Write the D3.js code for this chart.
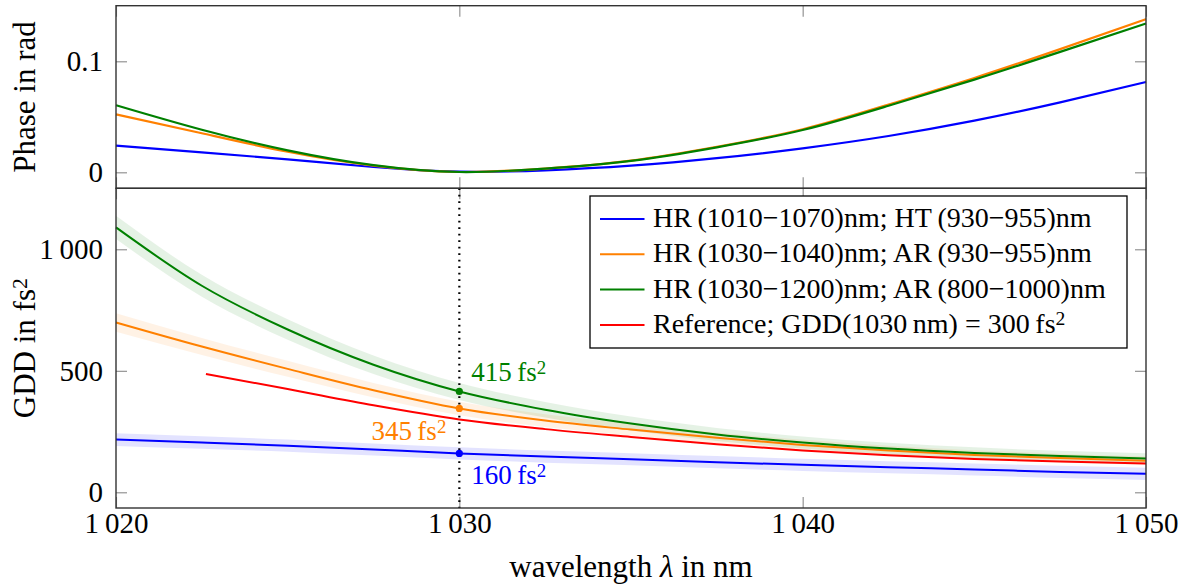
<!DOCTYPE html>
<html>
<head>
<meta charset="utf-8">
<script src="https://cdn.jsdelivr.net/npm/d3@7"></script>
<style>
  body { margin: 0; background: #ffffff; }
  svg { display: block; }
  svg text { font-family: "Liberation Serif", "Times New Roman", Times, Tinos, "Nimbus Roman", FreeSerif, "DejaVu Serif", "Noto Serif", serif; }
</style>
</head>
<body>
<script>
// ---------------- data ----------------
const wavelengths = [1020, 1022.5, 1025, 1027.5, 1030, 1032.5, 1035, 1037.5, 1040, 1042.5, 1045, 1047.5, 1050];

// phase in rad
const phaseBlue   = [0.0240, 0.0180, 0.0117, 0.0048, 0.0006, 0.0018, 0.0060, 0.0127, 0.0216, 0.0327, 0.0465, 0.0630, 0.0814];
const phaseOrange = [0.0522, 0.0352, 0.0185, 0.0060, 0.0003, 0.0034, 0.0106, 0.0230, 0.0388, 0.0610, 0.0850, 0.1110, 0.1380];
const phaseGreen  = [0.0604, 0.0383, 0.0198, 0.0064, 0.0003, 0.0033, 0.0103, 0.0225, 0.0381, 0.0600, 0.0835, 0.1085, 0.1340];

// GDD in fs^2
const gddBlue   = [217, 205, 192, 176, 160, 147, 136, 124, 113, 103, 94, 84, 76];
const gddOrange = [699, 600, 508, 420, 345, 295, 258, 224, 195, 172, 154, 141, 130];
const gddGreen  = [1090, 850, 670, 525, 415, 340, 283, 238, 205, 180, 162, 149, 139];

// uncertainty half-widths (fs^2)
const bandBlue   = [26, 26, 25, 25, 25, 25, 25, 25, 25, 25, 25, 25, 25];
const bandOrange = [38, 35, 33, 30, 28, 26, 24, 22, 21, 20, 19, 18, 18];
const bandGreen  = [48, 45, 42, 38, 35, 32, 29, 27, 25, 24, 23, 22, 22];

// reference
const refWavelengths = [1022.62, 1025, 1027.5, 1030, 1032.5, 1035, 1037.5, 1040, 1042.5, 1045, 1047.5, 1050];
const gddReference   = [487, 425, 358, 300, 260, 228, 198, 172, 152, 137, 127, 119];

// markers at 1030 nm
const markerWavelength = 1030;
const markerValues = [160, 345, 415];

const seriesNames = [
  "HR\u2009(1010\u22121070)nm; HT\u2009(930\u2212955)nm",
  "HR\u2009(1030\u22121040)nm; AR\u2009(930\u2212955)nm",
  "HR\u2009(1030\u22121200)nm; AR\u2009(800\u22121000)nm",
  "Reference; GDD(1030\u2009nm) = 300\u2009fs^2"
];
const seriesColors = ["#0000ff", "#ff8000", "#008000", "#ff0000"];

const xTicks = [1020, 1030, 1040, 1050];
const phaseTicks = [0, 0.1];
const gddTicks = [0, 500, 1000];

// ---------------- layout ----------------
const W = 1187, H = 587;
const L = 116, R = 1146, T = 5.7, M = 188.3, B = 508;
const FS = 29;

const svg = d3.select("body").append("svg").attr("width", W).attr("height", H);

const x = d3.scaleLinear().domain([1020, 1050]).range([L, R]);
const yP = d3.scaleLinear().domain([-0.0144, 0.1501]).range([M, T]);
const yG = d3.scaleLinear().domain([-64.6, 1251]).range([B, M]);

const fmt = d => {
  const s = String(d);
  return d >= 1000 ? s.replace(/(\d)(\d{3})$/, "$1\u2009$2") : s;
};

function styleAxis(g) {
  g.select(".domain").remove();
  g.attr("font-family", null).attr("font-size", FS);
  g.selectAll(".tick line").attr("stroke", "#8a8a8a").attr("stroke-width", 1.1);
  g.selectAll(".tick text").attr("fill", "#000");
}

// helper: text with ^2 superscripts
function richText(sel, str) {
  const parts = str.split("^2");
  parts.forEach((p, i) => {
    if (p.length) sel.append("tspan").text(p);
    if (i < parts.length - 1) {
      sel.append("tspan").attr("baseline-shift", "38%").attr("font-size", "0.7em").text("2");
    }
  });
}

// ---------------- top panel: phase ----------------
const topG = svg.append("g");
topG.append("g").attr("transform", `translate(0,${M})`)
  .call(d3.axisBottom(x).tickValues(xTicks).tickSizeInner(-11).tickSizeOuter(0).tickFormat(""))
  .call(styleAxis);
topG.append("g").attr("transform", `translate(0,${T})`)
  .call(d3.axisTop(x).tickValues(xTicks).tickSizeInner(-11).tickSizeOuter(0).tickFormat(""))
  .call(styleAxis);
topG.append("g").attr("transform", `translate(${L},0)`)
  .call(d3.axisLeft(yP).tickValues(phaseTicks).tickSizeInner(-11).tickSizeOuter(0).tickPadding(13).tickFormat(fmt))
  .call(styleAxis);
topG.append("g").attr("transform", `translate(${R},0)`)
  .call(d3.axisRight(yP).tickValues(phaseTicks).tickSizeInner(-11).tickSizeOuter(0).tickFormat(""))
  .call(styleAxis);

const linePhase = d3.line().x((d, i) => x(wavelengths[i])).y(d => yP(d)).curve(d3.curveNatural);
[[phaseBlue, 0], [phaseOrange, 1], [phaseGreen, 2]].forEach(([arr, k]) => {
  topG.append("path").datum(arr).attr("d", linePhase)
    .attr("fill", "none").attr("stroke", seriesColors[k]).attr("stroke-width", 2.2);
});

topG.append("rect").attr("x", L).attr("y", T).attr("width", R - L).attr("height", M - T)
  .attr("fill", "none").attr("stroke", "#333").attr("stroke-width", 1.4);

// ---------------- bottom panel: GDD ----------------
const botG = svg.append("g");
botG.append("g").attr("transform", `translate(0,${B})`)
  .call(d3.axisBottom(x).tickValues(xTicks).tickSizeInner(-11).tickSizeOuter(0).tickPadding(4).tickFormat(fmt))
  .call(styleAxis);
botG.append("g").attr("transform", `translate(0,${M})`)
  .call(d3.axisTop(x).tickValues(xTicks).tickSizeInner(-11).tickSizeOuter(0).tickFormat(""))
  .call(styleAxis);
botG.append("g").attr("transform", `translate(${L},0)`)
  .call(d3.axisLeft(yG).tickValues(gddTicks).tickSizeInner(-11).tickSizeOuter(0).tickPadding(13).tickFormat(fmt))
  .call(styleAxis);
botG.append("g").attr("transform", `translate(${R},0)`)
  .call(d3.axisRight(yG).tickValues(gddTicks).tickSizeInner(-11).tickSizeOuter(0).tickFormat(""))
  .call(styleAxis);

const bandArea = (vals, hw) => d3.area()
  .x((d, i) => x(wavelengths[i]))
  .y0((d, i) => yG(vals[i] - hw[i]))
  .y1((d, i) => yG(vals[i] + hw[i]))
  .curve(d3.curveMonotoneX)(vals);

[[gddBlue, bandBlue, 0, 0.11], [gddOrange, bandOrange, 1, 0.1], [gddGreen, bandGreen, 2, 0.1]].forEach(([v, hw, k, op]) => {
  botG.append("path").attr("d", bandArea(v, hw)).attr("fill", seriesColors[k]).attr("fill-opacity", op);
});

// dotted vertical line at 1030 nm
botG.append("line").attr("x1", x(markerWavelength)).attr("x2", x(markerWavelength))
  .attr("y1", M).attr("y2", B).attr("stroke", "#000").attr("stroke-width", 2.2)
  .attr("stroke-dasharray", "1.6 4.9");

const lineGdd = d3.line().x((d, i) => x(wavelengths[i])).y(d => yG(d)).curve(d3.curveMonotoneX);
[[gddBlue, 0], [gddOrange, 1], [gddGreen, 2]].forEach(([arr, k]) => {
  botG.append("path").datum(arr).attr("d", lineGdd)
    .attr("fill", "none").attr("stroke", seriesColors[k]).attr("stroke-width", 2);
});
const lineRef = d3.line().x((d, i) => x(refWavelengths[i])).y(d => yG(d)).curve(d3.curveMonotoneX);
botG.append("path").datum(gddReference).attr("d", lineRef)
  .attr("fill", "none").attr("stroke", seriesColors[3]).attr("stroke-width", 2);

// markers and annotations
markerValues.forEach((v, k) => {
  botG.append("circle").attr("cx", x(markerWavelength)).attr("cy", yG(v)).attr("r", 3.6)
    .attr("fill", seriesColors[k]);
});
const ann = [
  { v: markerValues[0], k: 0, dx: 12, dy: 31, anchor: "start" },
  { v: markerValues[1], k: 1, dx: -13, dy: 32, anchor: "end" },
  { v: markerValues[2], k: 2, dx: 12, dy: -10, anchor: "start" }
];
ann.forEach(a => {
  const t = botG.append("text").attr("x", x(markerWavelength) + a.dx).attr("y", yG(a.v) + a.dy)
    .attr("text-anchor", a.anchor).attr("font-size", 27).attr("fill", seriesColors[a.k]);
  richText(t, `${a.v}\u2009fs^2`);
});

botG.append("rect").attr("x", L).attr("y", M).attr("width", R - L).attr("height", B - M)
  .attr("fill", "none").attr("stroke", "#333").attr("stroke-width", 1.4);

// legend
const lg = botG.append("g");
lg.append("rect").attr("x", 590).attr("y", 196).attr("width", 537).attr("height", 152)
  .attr("fill", "#fff").attr("stroke", "#000").attr("stroke-width", 1.3);
seriesNames.forEach((name, k) => {
  const cy = 219 + k * 35.3;
  lg.append("line").attr("x1", 600).attr("x2", 644.5).attr("y1", cy).attr("y2", cy)
    .attr("stroke", seriesColors[k]).attr("stroke-width", 2);
  const t = lg.append("text").attr("x", 653).attr("y", cy + 8).attr("font-size", 28).attr("fill", "#000");
  richText(t, name);
});

// axis labels
svg.append("text").attr("x", (L + R) / 2).attr("y", 577).attr("text-anchor", "middle")
  .attr("font-size", 31)
  .call(t => {
    t.append("tspan").text("wavelength ");
    t.append("tspan").attr("font-style", "italic").text("\u03bb");
    t.append("tspan").text(" in nm");
  });
svg.append("text").attr("transform", `translate(35,${(T + M) / 2}) rotate(-90)`)
  .attr("text-anchor", "middle").attr("font-size", 31).text("Phase in rad");
svg.append("text").attr("transform", `translate(35,${(M + B) / 2}) rotate(-90)`)
  .attr("text-anchor", "middle").attr("font-size", 31)
  .call(t => richText(t, "GDD in fs^2"));
</script>
</body>
</html>
